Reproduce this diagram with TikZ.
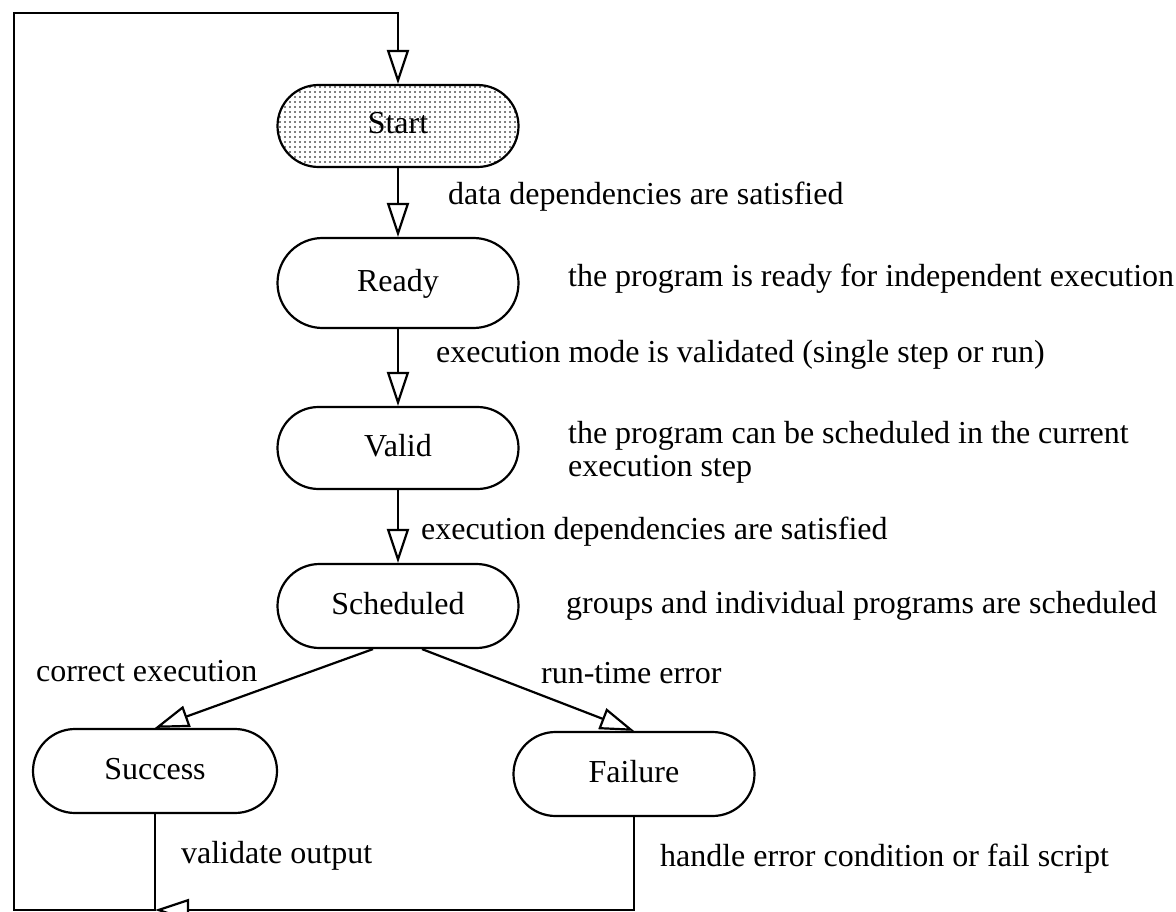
\documentclass[tikz,border=0pt]{standalone}
\usepackage{fontspec}
\setmainfont{Liberation Serif}
\usetikzlibrary{arrows.meta,patterns.meta}
\begin{document}
\begin{tikzpicture}[x=1pt,y=-1pt,
  line width=2.2pt,
  font=\fontsize{32}{36}\selectfont,
  state/.style={draw, rounded corners=42pt, minimum width=241pt, minimum height=84pt,
    inner sep=0pt, text height=22.4pt, text depth=6.4pt},
  flow/.style={-{Triangle[open,length=34pt,width=22pt]}},
  note/.style={anchor=base west, inner sep=0pt}]
\useasboundingbox (0,0) rectangle (1176,912);

% states
\node[state, pattern={Dots[distance=5pt,radius=0.9pt]}, minimum height=82pt, rounded corners=41pt] (start) at (398,126) {Start};
\node[state, minimum height=90pt, rounded corners=45pt] (ready) at (398,283) {Ready};
\node[state, minimum height=82pt, rounded corners=41pt] (valid) at (398,448) {Valid};
\node[state] (sched) at (398,606) {Scheduled};
\node[state, minimum width=244pt] (success) at (155,771) {Success};
\node[state] (failure) at (634,774) {Failure};

% corners of the feedback loop
\coordinate (tl) at (14,13);
\coordinate (bl) at (14,910);
\coordinate (join) at (155,910);

% transitions
\draw[flow] (start) -- (ready);
\draw[flow] (ready) -- (valid);
\draw[flow] (valid) -- (sched);
\draw[flow] ([xshift=-25pt]sched.south) -- (success.north);
\draw[flow] ([xshift=24pt]sched.south) -- (failure.north);
\draw[flow] (success.south) -- (join) -- (bl) -- (tl) -| (start.north);
\draw[flow] (failure.south) |- (join);

% transition and state descriptions
\node[note] (l1) at (447,205) {data dependencies are satisfied};
\node[note] (l2) at (567,287) {the program is ready for independent execution};
\node[note] (l3) at (435,362) {execution mode is validated (single step or run)};
\node[note] (l4) at (567,443) {the program can be scheduled in the current};
\node[note] (l4b) at (567,476) {execution step};
\node[note] (l5) at (420,539) {execution dependencies are satisfied};
\node[note] (l6) at (565,613) {groups and individual programs are scheduled};
\node[note] (l7) at (35,681) {correct execution};
\node[note] (l8) at (540,683) {run-time error};
\node[note] (l9) at (180,863) {validate output};
\node[note] (l10) at (659,866) {handle error condition or fail script};
\end{tikzpicture}
\end{document}
